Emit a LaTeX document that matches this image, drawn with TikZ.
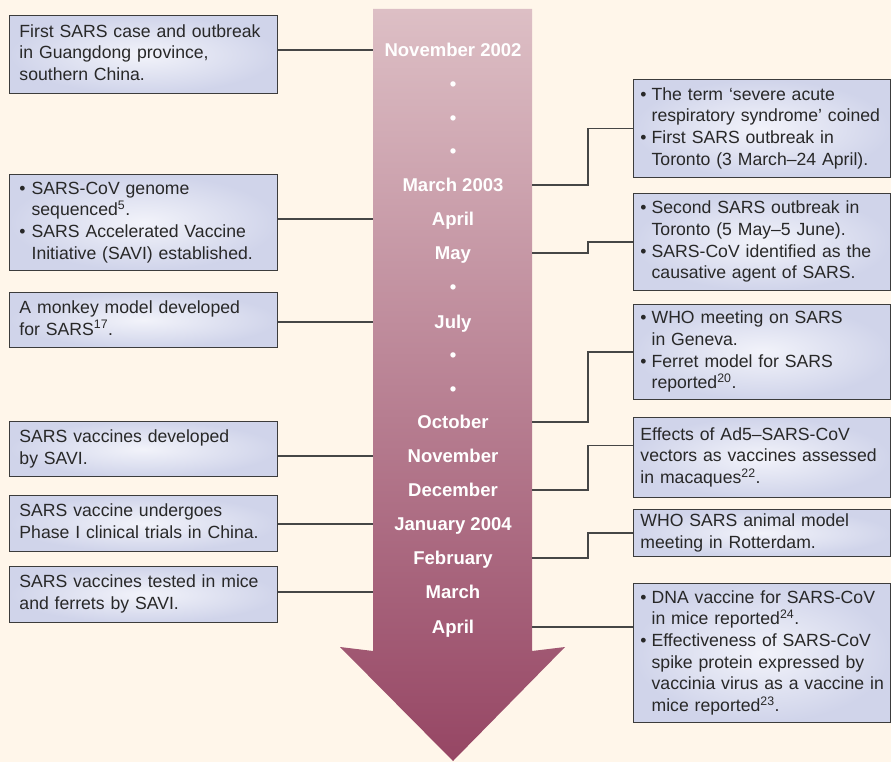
\documentclass[tikz,border=0pt]{standalone}
\usepackage{fontspec}
\setmainfont{Liberation Sans}
\usepackage{tikz}
\usetikzlibrary{positioning}

\definecolor{paper}{RGB}{255,246,234}
\definecolor{arrowtop}{RGB}{221,191,197}
\definecolor{arrowbot}{RGB}{150,70,100}
\definecolor{boxlo}{RGB}{208,212,234}
\definecolor{boxhi}{RGB}{242,243,250}
\definecolor{boxline}{RGB}{60,60,60}
\definecolor{inktext}{RGB}{40,40,40}
\definecolor{linkline}{RGB}{70,70,70}

\newcommand{\plainlines}[1]{\begin{tabular}{@{}l@{}}#1\end{tabular}}
\newcommand{\bulletlines}[2][6bp]{\begin{tabular}{@{}l@{\hspace{#1}}l@{}}#2\end{tabular}}

\tikzset{
  event/.style={draw=boxline,line width=0.9bp,inner color=boxhi,outer color=boxlo,
    anchor=north west,align=left,inner ysep=0pt,text=inktext,
    font=\fontsize{17.7}{21.7}\selectfont},
  leftevent/.style={event,minimum width=268bp,text width=248bp,inner xsep=10bp},
  rightevent/.style={event,minimum width=257bp,text width=243bp,inner xsep=7bp},
  month/.style={text=white,font=\bfseries\fontsize{18.6}{20}\selectfont,
    text height=13bp,text depth=0pt,inner sep=0pt},
  link/.style={draw=linkline,line width=1.1bp},
}

\begin{document}
\begin{tikzpicture}[x=1bp,y=-1bp]
  \fill[paper] (0,0) rectangle (891,762);
  \useasboundingbox (0,0) rectangle (891,762);

  % timeline arrow
  \shade[top color=arrowtop,bottom color=arrowbot]
    (373,9) -- (532,9) -- (532,651) -- (565,647) -- (453,761)
    -- (340,647) -- (373,651) -- cycle;
  \coordinate (shaftL) at (373,0);
  \coordinate (shaftR) at (532,0);

  \node[month] (nov02) at (453,50) {November 2002};
  \node[month] (dotA) at (453,84) {•};
  \node[month] (dotB) at (453,118) {•};
  \node[month] (dotC) at (453,151) {•};
  \node[month] (mar03) at (453,185) {March 2003};
  \node[month] (apr03) at (453,219) {April};
  \node[month] (may03) at (453,253) {May};
  \node[month] (dotD) at (453,287) {•};
  \node[month] (jul03) at (453,322) {July};
  \node[month] (dotE) at (453,355) {•};
  \node[month] (dotF) at (453,389) {•};
  \node[month] (oct03) at (453,422) {October};
  \node[month] (nov03) at (453,456) {November};
  \node[month] (dec03) at (453,490) {December};
  \node[month] (jan04) at (453,524) {January 2004};
  \node[month] (feb04) at (453,558) {February};
  \node[month] (mar04) at (453,592) {March};
  \node[month] (apr04) at (453,627) {April};

  % events on the left
  \node[leftevent,minimum height=78bp] (first) at (9,15)
    {\plainlines{First SARS case and outbreak\\in Guangdong province,\\southern China.}};
  \node[leftevent,minimum height=96bp] (genome) at (9,174)
    {\bulletlines{•&SARS-CoV genome\\&sequenced\textsuperscript{5}.\\•&SARS Accelerated Vaccine\\&Initiative (SAVI) established.}};
  \node[leftevent,minimum height=55bp] (monkey) at (9,292)
    {\plainlines{A monkey model developed\\for SARS\textsuperscript{17}.}};
  \node[leftevent,minimum height=55bp] (savi) at (9,421)
    {\plainlines{SARS vaccines developed\\by SAVI.}};
  \node[leftevent,minimum height=56bp] (phase) at (9,495)
    {\plainlines{SARS vaccine undergoes\\Phase I clinical trials in China.}};
  \node[leftevent,minimum height=56bp] (mice) at (9,566)
    {\plainlines{SARS vaccines tested in mice\\and ferrets by SAVI.}};

  % events on the right
  \node[rightevent,minimum height=98bp] (term) at (633,79)
    {\bulletlines[5bp]{•&The term ‘severe acute\\&respiratory syndrome’ coined\\•&First SARS outbreak in\\&Toronto (3 March–24 April).}};
  \node[rightevent,minimum height=97bp] (second) at (633,193)
    {\bulletlines[5bp]{•&Second SARS outbreak in\\&Toronto (5 May–5 June).\\•&SARS-CoV identified as the\\&causative agent of SARS.}};
  \node[rightevent,minimum height=95bp] (geneva) at (633,304)
    {\bulletlines[5bp]{•&WHO meeting on SARS\\&in Geneva.\\•&Ferret model for SARS\\&reported\textsuperscript{20}.}};
  \node[rightevent,minimum height=80bp] (ad5) at (633,417)
    {\plainlines{Effects of Ad5–SARS-CoV\\vectors as vaccines assessed\\in macaques\textsuperscript{22}.}};
  \node[rightevent,minimum height=47bp] (rotterdam) at (633,509)
    {\plainlines{WHO SARS animal model\\meeting in Rotterdam.}};
  \node[rightevent,minimum height=139bp] (dna) at (633,583)
    {\bulletlines[5bp]{•&DNA vaccine for SARS-CoV\\&in mice reported\textsuperscript{24}.\\•&Effectiveness of SARS-CoV\\&spike protein expressed by\\&vaccinia virus as a vaccine in\\&mice reported\textsuperscript{23}.}};

  % connectors
  \draw[link] (first.east |- nov02) -- (nov02 -| shaftL);
  \draw[link] (genome.east |- apr03) -- (apr03 -| shaftL);
  \draw[link] (monkey.east |- jul03) -- (jul03 -| shaftL);
  \draw[link] (savi.east |- nov03) -- (nov03 -| shaftL);
  \draw[link] (phase.east |- jan04) -- (jan04 -| shaftL);
  \draw[link] (mice.east |- mar04) -- (mar04 -| shaftL);

  \draw[link] (mar03 -| shaftR) -| ([xshift=-45bp]term.west) -- (term.west);
  \draw[link] (may03 -| shaftR) -| ([xshift=-45bp]second.west) -- (second.west);
  \draw[link] (oct03 -| shaftR) -| ([xshift=-45bp]geneva.west) -- (geneva.west);
  \draw[link] (dec03 -| shaftR) -| ([shift={(-45bp,12bp)}]ad5.west) -- ([yshift=12bp]ad5.west);
  \draw[link] (feb04 -| shaftR) -| ([xshift=-45bp]rotterdam.west) -- (rotterdam.west);
  \draw[link] (apr04 -| shaftR) -- (dna.west |- apr04);
\end{tikzpicture}
\end{document}
